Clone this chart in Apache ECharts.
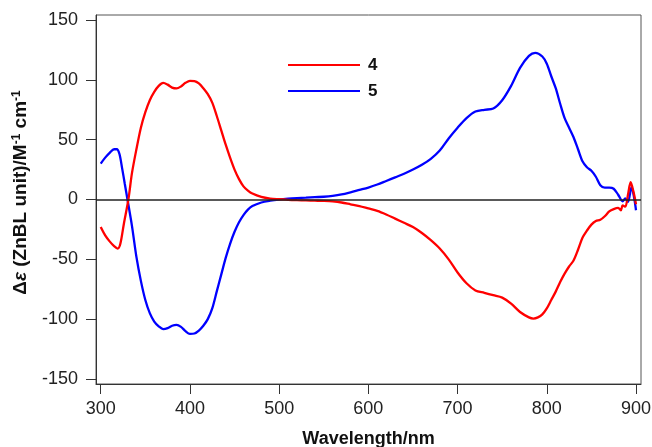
<!DOCTYPE html>
<html><head><meta charset="utf-8">
<script src="https://cdn.jsdelivr.net/npm/echarts@6/dist/echarts.min.js"></script>
<style>html,body{margin:0;padding:0;background:#fff}#c{width:652px;height:447px}</style>
</head><body><div id="c"></div>
<script>
const wl4 = [300,305,310,315,319,322,326,331,335,340,345,350,355,360,365,370,375,380,385,390,395,400,405,410,415,420,425,430,435,440,445,450,455,460,465,470,480,490,500,510,520,530,540,550,560,570,580,590,600,610,620,630,640,650,660,670,680,690,700,710,720,730,740,750,760,770,780,785,790,795,800,805,810,815,820,825,830,835,840,845,850,855,860,865,870,875,880,883,885,888,891,894,897,900];
const val4 = [-23,-30,-35,-39,-41,-37,-20,0,22,42,60,73,83,90,95,97.5,96,93.5,92.8,94.5,97.5,99.2,99,97,93,88,81,70,58,46,35,25,17,11,7.5,5,2.2,0.8,0.2,-0.3,-0.6,-0.8,-1,-1.2,-1.6,-2.5,-4,-5.5,-7.5,-9.5,-12.5,-16,-19.5,-23,-28,-34,-41,-50,-61,-70,-76,-78,-80,-82,-87,-94,-98.5,-99.5,-98.5,-96,-91,-84,-77,-69,-62,-56,-51,-42,-32,-26,-21,-18,-17,-14,-10,-8,-7,-9,-5,-6,4,14.5,7,-4];
const wl5 = [300,305,310,315,318,321,324,327,330,335,340,345,350,355,360,365,370,375,380,385,390,395,400,405,410,415,420,425,430,435,440,445,450,455,460,465,470,480,490,500,510,520,530,540,550,560,570,580,590,600,610,620,630,640,650,660,670,680,690,700,710,720,730,740,750,760,770,780,787,795,800,805,810,815,820,825,830,835,840,845,850,855,860,865,870,875,880,885,888,891,895,898,900];
const val5 = [30,35,39,42,42,38,26,13,0,-22,-48,-68,-84,-95,-102,-106,-108.3,-107.5,-105.5,-104.8,-106.5,-110,-112.3,-112,-109.5,-105.5,-100,-91,-77,-63,-49,-37,-27,-19,-13,-8.5,-5.5,-2.5,-1,0,0.7,1.2,1.6,2,2.3,3,4.2,6,8,10,12.5,15.5,18.5,21.5,25,29,34,41,51,60,68,73.5,75,76,83,95,110,120,122.6,119.5,113.5,103,93,80,68,60,52,42,32,27,24,19,12,10,10,9,4,-1.5,1,-2,10.5,1,-9];
const xTicks = [300,400,500,600,700,800,900];
const yTicks = [-150,-100,-50,0,50,100,150];
const seriesNames = ['4','5'];

const chart = echarts.init(document.getElementById('c'));
const pairs = (w,v) => w.map((x,i)=>[x,v[i]]);
const font = 'Liberation Sans, Arial, sans-serif';
chart.setOption({
  animation:false,
  grid:{left:96,right:11,top:15,bottom:63,show:true,borderColor:'#555',borderWidth:1,outerBoundsMode:'none',containLabel:false},
  legend:{
    left:283, top:50, orient:'vertical', itemWidth:72, itemHeight:2, itemGap:6, icon:'rect',
    textStyle:{fontFamily:font,fontWeight:'bold',fontSize:17,lineHeight:20,color:'#111',padding:[0,0,0,3]},
    data:seriesNames
  },
  xAxis:{
    type:'value', min:294.7, max:905.6,
    axisLine:{onZero:false,lineStyle:{color:'#333',width:1}},
    axisTick:{show:true,length:10,inside:false,customValues:xTicks,lineStyle:{color:'#333'}},
    axisLabel:{customValues:xTicks,fontFamily:font,fontSize:18,color:'#222',margin:16},
    splitLine:{show:false},
    name:'Wavelength/nm', nameLocation:'middle', nameGap:46,
    nameTextStyle:{fontFamily:font,fontWeight:'bold',fontSize:18,color:'#111'}
  },
  yAxis:{
    type:'value', min:-154.2, max:154.2,
    axisLine:{show:true,onZero:false,lineStyle:{color:'#333',width:1}},
    axisTick:{show:true,length:10,inside:false,customValues:yTicks,lineStyle:{color:'#333'}},
    axisLabel:{customValues:yTicks,fontFamily:font,fontSize:18,color:'#222',margin:18},
    splitLine:{show:false},
    name:'{b|Δ}{i|ε}{b| (ZnBL unit)/M}{s|-1}{b| cm}{s|-1}', nameLocation:'middle', nameGap:66, nameRotate:90,
    nameTextStyle:{fontFamily:font,fontWeight:'bold',fontSize:19,color:'#111',padding:[0,0,0,14],
      rich:{
        b:{fontFamily:font,fontWeight:'bold',fontSize:19,color:'#111'},
        i:{fontFamily:font,fontWeight:'bold',fontStyle:'italic',fontSize:19,color:'#111'},
        s:{fontFamily:font,fontWeight:'bold',fontSize:12,color:'#111',verticalAlign:'top'}
      }}
  },
  series:[
    {name:seriesNames[0],type:'line',data:pairs(wl4,val4),symbol:'none',smooth:0.3,
     lineStyle:{color:'#ff0000',width:2.3},itemStyle:{color:'#ff0000'},z:3,
     markLine:{silent:true,symbol:'none',label:{show:false},lineStyle:{color:'#222',width:1.5,type:'solid'},data:[{yAxis:0}]}},
    {name:seriesNames[1],type:'line',data:pairs(wl5,val5),symbol:'none',smooth:0.3,
     lineStyle:{color:'#0000ff',width:2.3},itemStyle:{color:'#0000ff'},z:2}
  ]
});
</script></body></html>
